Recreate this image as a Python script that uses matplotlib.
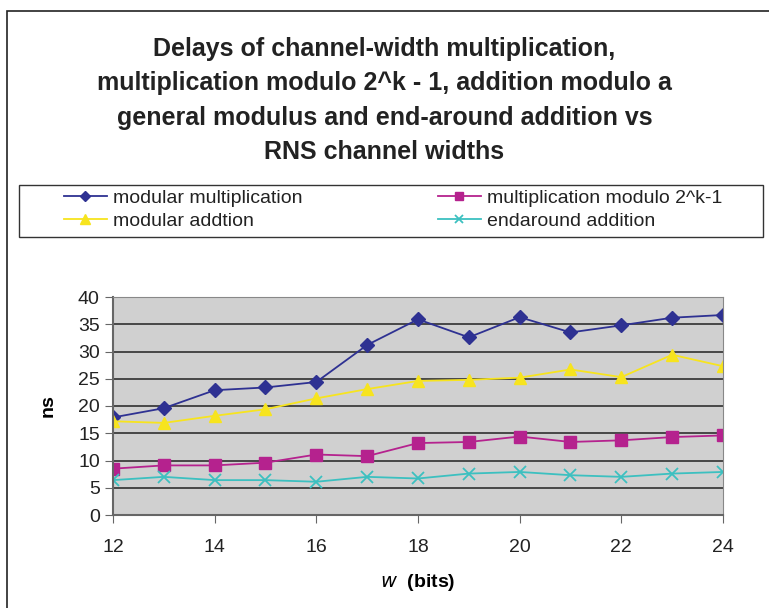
import matplotlib.pyplot as plt
from matplotlib.patches import Rectangle

plt.rcParams['font.family'] = ['Liberation Sans', 'DejaVu Sans']

widths = [12, 13, 14, 15, 16, 17, 18, 19, 20, 21, 22, 23, 24]
mod_mult = [17.9, 19.6, 22.9, 23.4, 24.4, 31.2, 35.9, 32.6, 36.3, 33.5, 34.8, 36.2, 36.7]
mult_2k = [8.5, 9.1, 9.1, 9.6, 11.1, 10.8, 13.2, 13.4, 14.4, 13.4, 13.7, 14.3, 14.6]
mod_add = [17.2, 16.9, 18.2, 19.4, 21.4, 23.1, 24.6, 24.8, 25.2, 26.7, 25.3, 29.4, 27.3]
endaround = [6.4, 7.0, 6.4, 6.4, 6.1, 7.0, 6.7, 7.6, 7.9, 7.3, 7.0, 7.6, 7.9]

fig = plt.figure(figsize=(7.69, 6.08), dpi=100)
W, H = 769, 608

# outer chart border
fig.patches.append(Rectangle((7 / W, -0.1), 1.2, (H - 11) / H + 0.1,
                             transform=fig.transFigure, fill=False,
                             edgecolor='#222222', linewidth=1.2))
# legend frame
fig.patches.append(Rectangle((19 / W, 1 - 237 / H), (763 - 19) / W, (237 - 185) / H,
                             transform=fig.transFigure, fill=False,
                             edgecolor='#333333', linewidth=1.0))

ax = fig.add_axes([113 / W, 1 - 515 / H, (723 - 113) / W, (515 - 297) / H])
ax.set_facecolor('#d0d0d0')

l1, = ax.plot(widths, mod_mult, color='#2e3192', marker='D', markersize=7, linewidth=1.3)
l2, = ax.plot(widths, mult_2k, color='#b5228e', marker='s', markersize=8, linewidth=1.3)
l3, = ax.plot(widths, mod_add, color='#f7e41e', marker='^', markersize=9, linewidth=1.3)
l4, = ax.plot(widths, endaround, color='#3cc0c0', marker='x', markersize=8,
              markeredgewidth=1.3, linewidth=1.3)

ax.set_xlim(12, 24)
ax.set_ylim(0, 40)
ax.set_xticks(range(12, 25, 2))
ax.set_yticks(range(0, 41, 5))
ax.yaxis.grid(True, color='#222222', linewidth=1.1)
ax.set_axisbelow(True)
for s in ['top', 'right']:
    ax.spines[s].set_color('#888888')
for s in ['left', 'bottom']:
    ax.spines[s].set_color('#666666')
    ax.spines[s].set_linewidth(1.5)
ax.tick_params(axis='both', direction='out', length=6, color='#666666',
               labelsize=14, labelcolor='#222222')
ax.tick_params(axis='x', pad=11)
ax.set_xlabel(r'$\bf{\it{w}}$  (bits)', fontsize=14, fontweight='bold', labelpad=11.5)
ax.set_ylabel('ns', fontsize=14, fontweight='bold', labelpad=15.5)

fig.text(0.5, 1 - 100.5 / H,
         'Delays of channel-width multiplication,\n'
         'multiplication modulo 2^k - 1, addition modulo a\n'
         'general modulus and end-around addition vs\n'
         'RNS channel widths',
         ha='center', va='center', fontsize=18, fontweight='bold',
         linespacing=1.53, color='#222222')

# two legend columns placed separately
leg_kw = dict(loc='upper left', frameon=False, fontsize=14, handlelength=2.2,
              handletextpad=0.3, borderpad=0, labelspacing=0.28, borderaxespad=0,
              markerscale=0.75)
leg1 = fig.legend([l1, l3], ['modular multiplication', 'modular addtion'],
                  bbox_to_anchor=(64 / W, 1 - 189 / H), **leg_kw)
leg2 = fig.legend([l2, l4], ['multiplication modulo 2^k-1', 'endaround addition'],
                  bbox_to_anchor=(438 / W, 1 - 189 / H), **leg_kw)
for t in leg1.get_texts() + leg2.get_texts():
    t.set_color('#222222')

fig.savefig('out.png', dpi=100)
